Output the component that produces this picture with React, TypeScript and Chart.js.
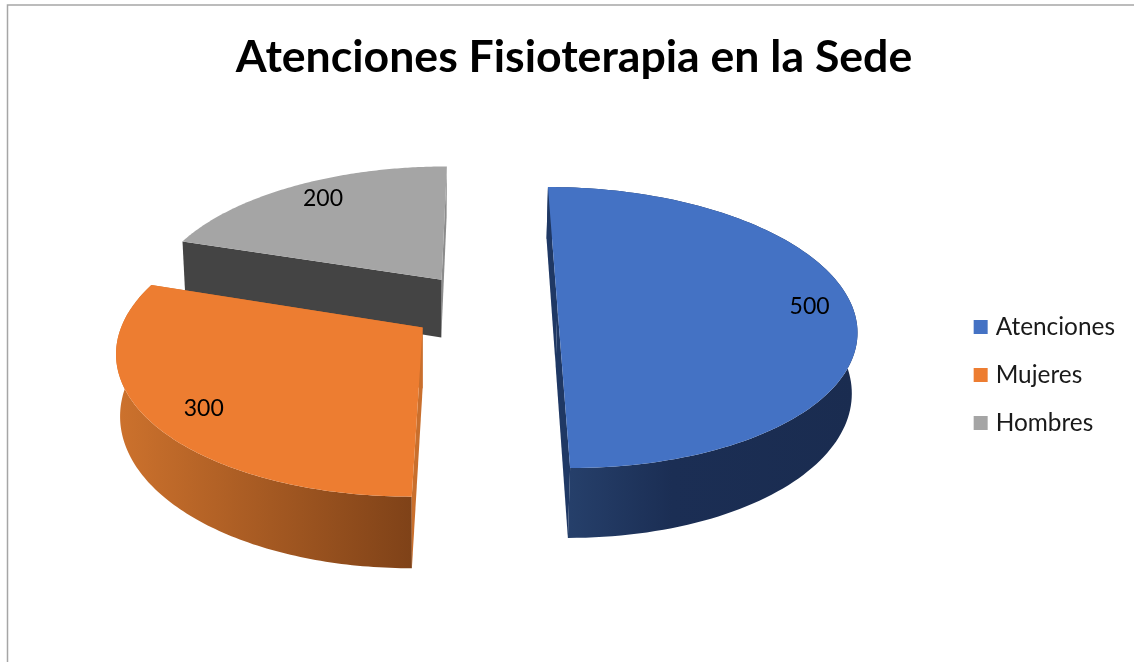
import React, { useEffect, useRef } from "react";
import { Chart, registerables } from "chart.js";

Chart.register(...registerables);

const titleText = "Atenciones Fisioterapia en la Sede";
const categories = ["Atenciones", "Mujeres", "Hombres"];
const values = [500, 300, 200];
const topColors = ["#4472c4", "#ed7d31", "#a5a5a5"];
const wallStops: [number, string][][] = [
  [[0, "#28436f"], [0.4, "#1b2e54"], [1, "#1a2c50"]],
  [[0, "#cd722d"], [1, "#7f4218"]],
  [[0, "#6e6e6e"], [1, "#5c5c5c"]],
];
const cutColors = ["#1f3864", "#c96f2d", "#444444"];
const sliverColors = ["#1f3864", "#c96f2d", "#8c8c8c"];
const labelNudgeX = [0.005, 0.035, 0.03];
const labelNudgeY = [0, 0.023, -0.005];

// Camera: plane of the pie, seen in perspective
const VP_X = 484;
const VP_Y = -624;
const SCALE_X = 295;
const OFFSET_X = -0.35;
const SCALE_Y = 930.8;
const PERSP = 0.1477;
const EXPLODE = 0.25;
const DEPTH = 59.5;
const DOWN_VP_X = 420;
const DOWN_VP_D = 4700;
const LABEL_R = 0.85;

type P = { x: number; y: number };

function top(X: number, Y: number): P & { w: number } {
  const w = 1 - PERSP * Y;
  return { x: VP_X + (SCALE_X * X + OFFSET_X) / w, y: VP_Y + SCALE_Y / w, w };
}
function bottom(X: number, Y: number): P {
  const t = top(X, Y);
  const dy = DEPTH / t.w;
  return { x: t.x + ((DOWN_VP_X - t.x) * dy) / DOWN_VP_D, y: t.y + dy };
}
function poly(ctx: CanvasRenderingContext2D, pts: P[], fill: string | CanvasGradient) {
  ctx.beginPath();
  pts.forEach((p, i) => (i ? ctx.lineTo(p.x, p.y) : ctx.moveTo(p.x, p.y)));
  ctx.closePath();
  ctx.fillStyle = fill;
  ctx.fill();
}

const framePlugin = {
  id: "frame",
  beforeDraw(chart: any) {
    const { ctx, width, height } = chart;
    ctx.save();
    ctx.fillStyle = "#ffffff";
    ctx.fillRect(0, 0, width, height);
    ctx.strokeStyle = "#a6a6a6";
    ctx.lineWidth = 1.5;
    ctx.beginPath();
    ctx.moveTo(7.5, height);
    ctx.lineTo(7.5, 5);
    ctx.lineTo(width, 5);
    ctx.stroke();
    ctx.restore();
  },
};

const pie3dPlugin = {
  id: "pie3d",
  beforeDatasetDraw(chart: any, args: any) {
    const { ctx } = chart;
    const arcs = chart.getDatasetMeta(args.index).data;
    ctx.save();
    for (let i = arcs.length - 1; i >= 0; i--) {
      const { startAngle: a0, endAngle: a1 } = arcs[i];
      const mid = (a0 + a1) / 2;
      const ox = EXPLODE * Math.cos(mid);
      const oy = EXPLODE * Math.sin(mid);
      const n = 120;
      const rim: [number, number][] = [];
      for (let k = 0; k <= n; k++) {
        const a = a0 + ((a1 - a0) * k) / n;
        rim.push([ox + Math.cos(a), oy + Math.sin(a)]);
      }
      // outer wall
      const tops = rim.map(([X, Y]) => top(X, Y));
      const bots = rim.map(([X, Y]) => bottom(X, Y));
      if (i !== 2) {
        const minX = Math.min(...tops.map((p) => p.x));
        const maxX = Math.max(...tops.map((p) => p.x));
        const g = ctx.createLinearGradient(minX, 0, maxX, 0);
        wallStops[i].forEach(([s, c]) => g.addColorStop(s, c));
        poly(ctx, [...tops, ...bots.reverse()], g);
      }
      // cut faces
      const apexT = top(ox, oy);
      const apexB = bottom(ox, oy);
      const s = rim[0];
      const e = rim[n];
      poly(ctx, [apexT, top(e[0], e[1]), bottom(e[0], e[1]), apexB], sliverColors[i]);
      poly(ctx, [apexT, top(s[0], s[1]), bottom(s[0], s[1]), apexB], cutColors[i]);
      // top face
      poly(ctx, [apexT, ...tops], topColors[i]);
    }
    ctx.restore();
    return false;
  },
  afterDatasetsDraw(chart: any) {
    const { ctx } = chart;
    const arcs = chart.getDatasetMeta(0).data;
    ctx.save();
    ctx.font = "23px Lato";
    ctx.fillStyle = "#000000";
    ctx.textAlign = "center";
    ctx.textBaseline = "middle";
    arcs.forEach((arc: any, i: number) => {
      const mid = (arc.startAngle + arc.endAngle) / 2;
      const r = EXPLODE + LABEL_R;
      const p = top(r * Math.cos(mid) + labelNudgeX[i], r * Math.sin(mid) + labelNudgeY[i]);
      ctx.fillText(String(values[i]), p.x, p.y);
    });
    ctx.restore();
  },
};

export default function App() {
  const ref = useRef<HTMLCanvasElement>(null);
  useEffect(() => {
    document.body.style.margin = "0";
    document.body.style.overflow = "hidden";
    const chart = new Chart(ref.current as HTMLCanvasElement, {
      type: "pie",
      data: {
        labels: categories,
        datasets: [{ data: values, backgroundColor: topColors, borderWidth: 0 }],
      },
      plugins: [framePlugin, pie3dPlugin],
      options: {
        responsive: false,
        animation: false,
        layout: { padding: { left: 23, right: 9, top: 0, bottom: -88 } },
        plugins: {
          tooltip: { enabled: false },
          title: {
            display: true,
            text: titleText,
            color: "#000000",
            font: { family: "Lato", size: 44.6, weight: "bold" },
            padding: { top: 31, bottom: 10 },
          },
          legend: {
            position: "right",
            labels: {
              font: { family: "Lato", size: 24.4 },
              color: "#1a1a1a",
              boxWidth: 5.6,
              boxHeight: 5.6,
              padding: 23.6,
              generateLabels: () =>
                categories.map((text, i) => ({
                  text,
                  index: i,
                  fillStyle: topColors[i],
                  strokeStyle: topColors[i],
                  lineWidth: 8.4,
                  fontColor: "#1a1a1a",
                  hidden: false,
                })),
            },
          },
        },
      } as any,
    });
    return () => chart.destroy();
  }, []);
  return <canvas ref={ref} width={1134} height={662} style={{ display: "block" }} />;
}
